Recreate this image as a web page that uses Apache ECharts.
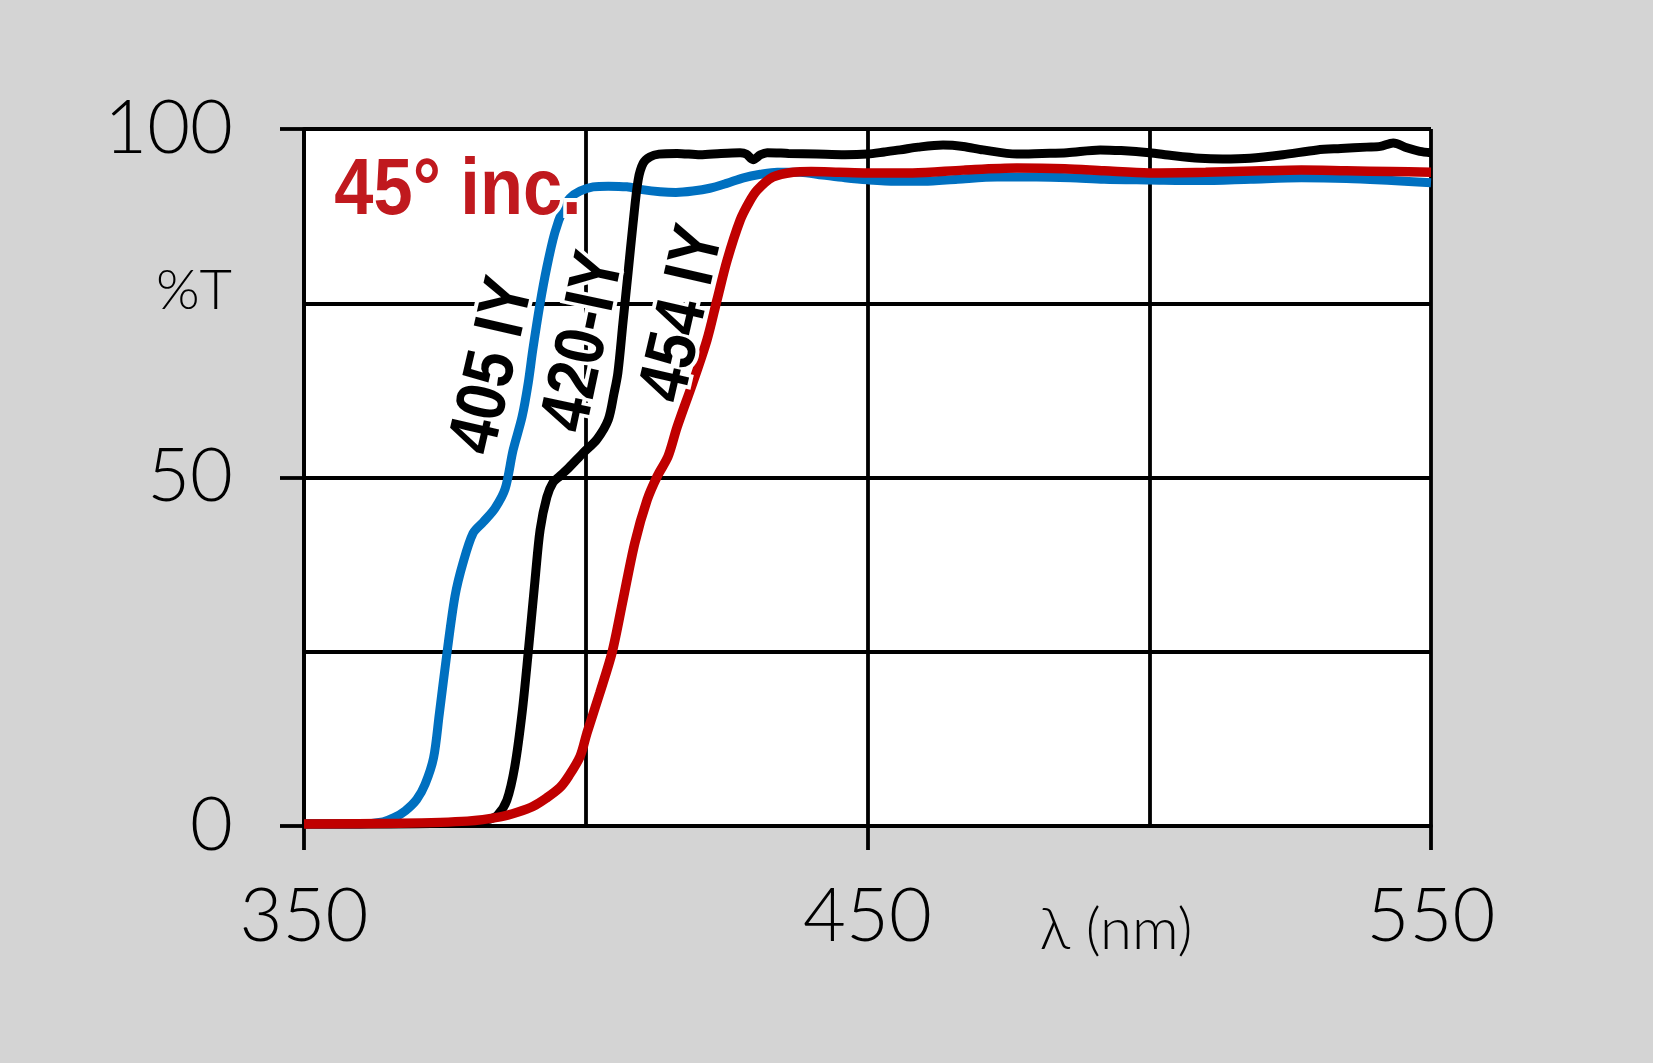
<!DOCTYPE html>
<html>
<head>
<meta charset="utf-8">
<script src="https://cdn.jsdelivr.net/npm/echarts@6/dist/echarts.min.js"></script>
<style>
html,body{margin:0;padding:0;background:#d4d4d4;}
#c{width:1653px;height:1063px;}
</style>
</head>
<body>
<div id="c"></div>
<script>
// Wavelength (nm) / transmission (%T) pairs
const blue405 = [
  [350,0.3],[360,0.3],[364,0.6],[366,1.2],[368,2.2],[370,3.8],[371.5,6],[373,9.8],[374,16],
  [375.4,25],[376.8,33],[378.2,37.7],[380,42],[381.8,43.6],[383.9,45.6],[385.7,48.4],
  [387.1,53.9],[388.7,58.7],[389.8,63.6],[390.6,68.3],[391.9,75],[393.1,80.2],[394.5,85.1],
  [396,88.5],[397.2,90.1],[399,91.1],[401.3,91.7],[404,91.8],[407.3,91.7],[410,91.3],
  [413.2,91.0],[416,90.9],[419,91.1],[422,91.5],[425,92.2],[428,93.0],[431,93.5],[434,93.8],
  [438,93.8],[442,93.4],[446,93.0],[450,92.7],[455,92.5],[460,92.5],[466,92.8],[473,93.1],
  [480,93.1],[486,93.0],[492,92.8],[500,92.7],[509,92.6],[518,92.8],[527,93.0],[535,92.9],
  [543,92.6],[550,92.3]
];
const black420 = [
  [350,0.3],[365,0.3],[375,0.4],[380,0.6],[383,1.0],[384.3,1.5],[386,3.7],[387.4,8.5],
  [388.7,16.2],[389.8,25],[391,35.3],[391.9,42.5],[393.1,47.2],[394.2,49.3],[395.4,50.2],
  [397,51.4],[399.5,53.5],[402,55.5],[404,58.3],[405,62],[405.7,65],[406.6,72.2],[407.5,79.3],
  [408.4,86.5],[409.3,92.7],[410.2,95.1],[411.4,96.0],[413,96.4],[416.2,96.5],[420.3,96.3],
  [424,96.5],[427.4,96.6],[428.5,96.4],[429.7,95.6],[431,96.3],[432.2,96.6],[436,96.5],
  [441,96.4],[446,96.3],[450,96.4],[453,96.7],[455.8,97.0],[459,97.4],[463.4,97.7],[467,97.5],
  [470.5,97.0],[476.5,96.4],[481,96.5],[485.4,96.6],[491.3,97.0],[495,96.9],[500,96.6],
  [504,96.2],[509,95.8],[513,95.7],[517.9,95.8],[523.7,96.3],[529.8,97.0],[534,97.2],
  [538.6,97.4],[541,97.5],[543.3,98.0],[545.7,97.3],[548,96.8],[550,96.6]
];
const red454 = [
  [350,0.3],[367,0.4],[379,0.7],[384.8,1.3],[388,2.0],[390.6,2.8],[393,4],[395.4,5.5],
  [397,7.2],[399,10],[400.2,13.3],[402.5,19.1],[404.7,25],[406.6,32.4],[408.7,40.6],
  [410.9,46.8],[412.7,50.2],[414.6,53],[416.2,57.2],[419,63.6],[421.5,69.7],[423.3,75.5],
  [425.1,81.2],[427.4,86.9],[429,89.5],[430.4,91.2],[433.2,93.1],[436.8,93.8],[440,93.9],
  [445,93.8],[450,93.7],[458,93.7],[467,94.1],[476.5,94.4],[485,94.3],[492,94.0],[500,93.7],
  [510,93.8],[520,94.0],[527,94.1],[535,94.0],[543,93.9],[550,93.8]
];
const seriesNames = ['405 IY','420-IY','454 IY'];
const xTicks = [350, 450, 550];
const yTicks = [0, 50, 100];

const chart = echarts.init(document.getElementById('c'), null, {renderer:'canvas'});
const thin = {fontFamily:'Lato', fontWeight:300, color:'#000'};
const lbl = {fontFamily:'"Liberation Sans",Arial,sans-serif', fontWeight:'bold'};
const gridLine = {color:'#000', width:3.8};
chart.setOption({
  backgroundColor:'#d4d4d4',
  animation:false,
  grid:{left:304, top:129, width:1127, height:697, show:true, backgroundColor:'#fff', borderWidth:0},
  xAxis:{
    type:'value', min:350, max:550, interval:100,
    axisLine:{lineStyle:gridLine},
    axisTick:{show:true, length:24, lineStyle:gridLine},
    axisLabel:Object.assign({fontSize:74, margin:54,
      formatter:v => xTicks.includes(v) ? String(v) : ''}, thin),
    splitLine:{show:true, lineStyle:gridLine},
    minorTick:{show:false, splitNumber:2},
    minorSplitLine:{show:true, lineStyle:gridLine}
  },
  yAxis:{
    type:'value', min:0, max:100, interval:50,
    axisLine:{show:true, lineStyle:gridLine},
    axisTick:{show:true, length:24, lineStyle:gridLine},
    axisLabel:Object.assign({fontSize:74, margin:71,
      formatter:v => yTicks.includes(v) ? String(v) : ''}, thin),
    splitLine:{show:true, lineStyle:gridLine},
    minorTick:{show:false, splitNumber:2},
    minorSplitLine:{show:true, lineStyle:gridLine}
  },
  series:[
    {name:seriesNames[0], type:'line', data:blue405, showSymbol:false, smooth:0.3,
     lineStyle:{color:'#0070c0', width:9}, z:3},
    {name:seriesNames[1], type:'line', data:black420, showSymbol:false, smooth:0.3,
     lineStyle:{color:'#000', width:9}, z:4},
    {name:seriesNames[2], type:'line', data:red454, showSymbol:false, smooth:0.3,
     lineStyle:{color:'#c00000', width:9.5}, z:5}
  ],
  graphic:[
    {type:'text', x:194, y:291, z:100, style:{text:'%T', fontSize:56,
      fontFamily:'Lato', fontWeight:300, fill:'#000', align:'center', verticalAlign:'middle'}},
    {type:'text', x:1116, y:930, z:100, style:{text:'λ (nm)', fontSize:58,
      fontFamily:'Lato', fontWeight:300, fill:'#000', align:'center', verticalAlign:'middle'}},
    {type:'text', x:458, y:192, z:100, scaleX:0.88, style:Object.assign({text:'45° inc.', fontSize:80,
      fill:'#c0191e', align:'center', verticalAlign:'middle', stroke:'#fff', lineWidth:8}, lbl)},
    {type:'text', x:494, y:366, z:100, rotation:77*Math.PI/180, scaleX:0.88, style:Object.assign({text:seriesNames[0], fontSize:70,
      fill:'#000', align:'center', verticalAlign:'middle', stroke:'#fff', lineWidth:8}, lbl)},
    {type:'text', x:585, y:342, z:100, rotation:78*Math.PI/180, scaleX:0.88, style:Object.assign({text:seriesNames[1], fontSize:70,
      fill:'#000', align:'center', verticalAlign:'middle', stroke:'#fff', lineWidth:8}, lbl)},
    {type:'text', x:684, y:314, z:100, rotation:77*Math.PI/180, scaleX:0.88, style:Object.assign({text:seriesNames[2], fontSize:70,
      fill:'#000', align:'center', verticalAlign:'middle', stroke:'#fff', lineWidth:8}, lbl)}
  ]
});
</script>
</body>
</html>
